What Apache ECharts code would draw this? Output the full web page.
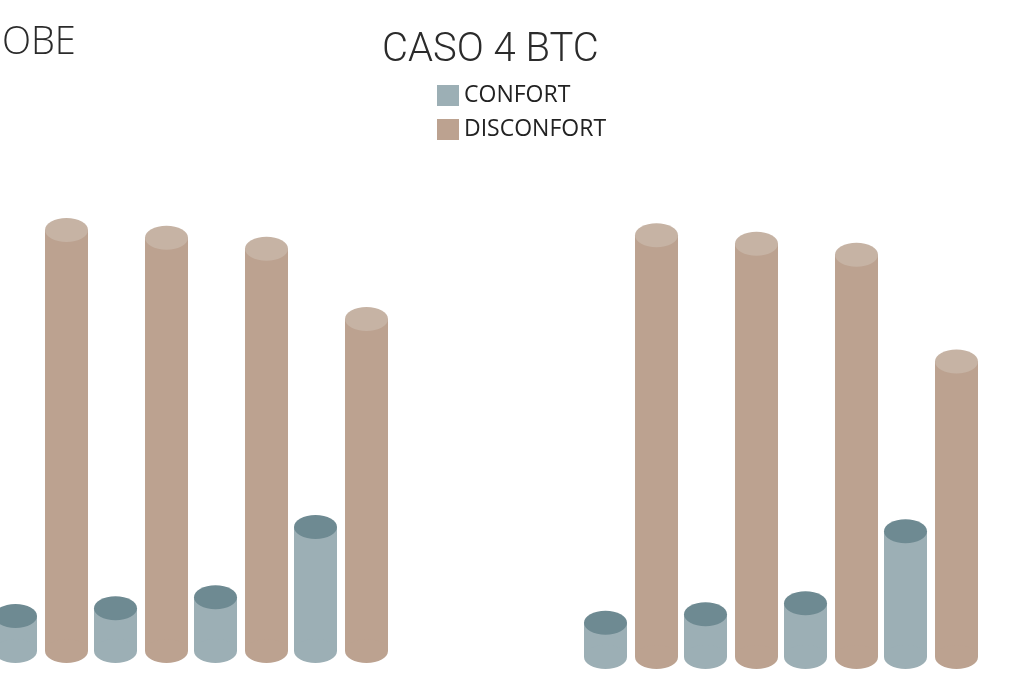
<!DOCTYPE html>
<html>
<head>
<meta charset="utf-8">
<title>CASO 4 BTC</title>
<script src="https://cdn.jsdelivr.net/npm/echarts@6/dist/echarts.min.js"></script>
<style>
  html, body { margin: 0; padding: 0; background: #ffffff; }
  #chart { width: 1018px; height: 682px; }
</style>
</head>
<body>
<div id="chart"></div>
<script>
// Four cases per panel, share of responses in percent
const categories = ['1', '2', '3', '4'];
const seriesNames = ['CONFORT', 'DISCONFORT'];

// Left panel (its title runs off the page: "...OBE")
const leftConfort    = [7.7, 9.4, 11.8, 27.2];
const leftDisconfort = [92.3, 90.6, 88.2, 72.8];

// Right panel: CASO 4 BTC
const rightConfort    = [7.5, 9.4, 11.8, 27.6];
const rightDisconfort = [92.5, 90.6, 88.2, 64.8];

const COLORS = {
  CONFORT:    { body: '#9cafb5', top: '#6e8a92' },
  DISCONFORT: { body: '#bca290', top: '#c6b3a4' }
};

const HALF_W = 21.5;   // cylinder half width (px)
const RY = 12;         // ellipse vertical radius (px)

function cylinderRenderer(offset, palette) {
  return function (params, api) {
    const idx = api.value(0);
    const top = api.coord([idx, api.value(1)]);
    const base = api.coord([idx, 0]);
    const cx = top[0] + offset;
    return {
      type: 'group',
      children: [
        {
          type: 'rect',
          shape: { x: cx - HALF_W, y: top[1], width: HALF_W * 2, height: base[1] - top[1] },
          style: { fill: palette.body }
        },
        {
          type: 'ellipse',
          shape: { cx: cx, cy: base[1], rx: HALF_W, ry: RY },
          style: { fill: palette.body }
        },
        {
          type: 'ellipse',
          shape: { cx: cx, cy: top[1], rx: HALF_W, ry: RY },
          style: { fill: palette.top }
        }
      ]
    };
  };
}

function cylSeries(name, values, axisIdx, offset) {
  return {
    name: name,
    type: 'custom',
    xAxisIndex: axisIdx,
    yAxisIndex: axisIdx,
    itemStyle: { color: COLORS[name].body },
    renderItem: cylinderRenderer(offset, COLORS[name]),
    // x = position of the case in categories
    data: values.map((v, i) => [categories.indexOf(categories[i]), v]),
    clip: false,
    silent: true
  };
}

// Case index axis; min/max leave half a slot of room around the cases
const hiddenX = (grid, min, max) => ({
  type: 'value', gridIndex: grid, min: min, max: max, show: false
});
const hiddenY = (grid) => ({
  type: 'value', gridIndex: grid, min: 0, max: 100, show: false
});

const chart = echarts.init(document.getElementById('chart'), null, { renderer: 'canvas' });

chart.setOption({
  backgroundColor: '#ffffff',
  animation: false,
  title: [
    {
      text: 'CASO 4 BTC',
      left: 382,
      top: 31,
      padding: 0,
      textStyle: { fontFamily: 'Roboto', fontWeight: 300, fontSize: 40, lineHeight: 40, color: '#2b2b2b' }
    },
    {
      text: 'OBE',
      left: 2,
      top: 24,
      padding: 0,
      textStyle: { fontFamily: 'Open Sans', fontWeight: 300, fontSize: 38, lineHeight: 38, color: '#2b2b2b' }
    }
  ],
  legend: {
    orient: 'vertical',
    left: 437,
    top: 84,
    padding: 0,
    itemWidth: 22,
    itemHeight: 21,
    itemGap: 11,
    icon: 'rect',
    data: seriesNames,
    textStyle: { fontFamily: 'Open Sans', fontSize: 23, color: '#222222' }
  },
  grid: [
    { left: 0, top: 195, width: 400, height: 456 },
    { left: 581, top: 201, width: 400, height: 456 }
  ],
  xAxis: [hiddenX(0, -0.41, 3.59), hiddenX(1, -0.5, 3.5)],
  yAxis: [hiddenY(0), hiddenY(1)],
  series: [
    cylSeries('CONFORT', leftConfort, 0, -25.5),
    cylSeries('DISCONFORT', leftDisconfort, 0, 25.5),
    cylSeries('CONFORT', rightConfort, 1, -25.5),
    cylSeries('DISCONFORT', rightDisconfort, 1, 25.5)
  ]
});
</script>
</body>
</html>
